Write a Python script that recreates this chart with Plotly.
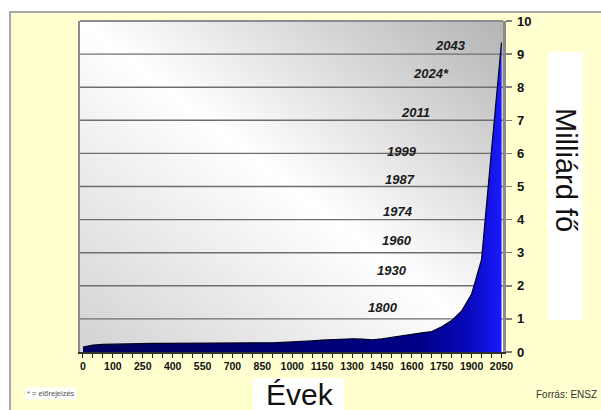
import numpy as np
import plotly.graph_objects as go

# ---------------- data ----------------
years = [0, 33, 67, 100, 150, 200, 250, 300, 350, 400, 450, 500, 550, 600, 650,
         700, 750, 800, 850, 900, 950, 1000, 1050, 1100, 1150, 1200, 1250, 1300,
         1350, 1400, 1450, 1500, 1550, 1600, 1650, 1700, 1750, 1800, 1850, 1900,
         1950, 2000, 2050]
population = [0.15, 0.21, 0.23, 0.24, 0.25, 0.25, 0.26, 0.26, 0.26, 0.26, 0.26, 0.26,
              0.26, 0.26, 0.26, 0.27, 0.27, 0.27, 0.28, 0.28, 0.29, 0.30, 0.32, 0.34,
              0.36, 0.38, 0.39, 0.40, 0.39, 0.37, 0.40, 0.45, 0.50, 0.55, 0.58, 0.62,
              0.76, 0.95, 1.24, 1.75, 2.80, 6.10, 9.35]
x_tick_labels = ["0", "100", "250", "400", "550", "700", "850", "1000", "1150",
                 "1300", "1450", "1600", "1750", "1900", "2050"]
y_ticks = [0, 1, 2, 3, 4, 5, 6, 7, 8, 9, 10]
milestone_labels = ["1800", "1930", "1960", "1974", "1987", "1999", "2011", "2024*", "2043"]
milestone_billions = [1, 2, 3, 4, 5, 6, 7, 8, 9]

# ---------------- layout geometry ----------------
W, H = 601, 410
L, R, T, B = 80, 98, 21, 58
XR = [-0.3, 42.15]
YR = [0, 10]


def xp(px):
    return (px - L) / (W - L - R)


def yp(py):
    return (H - B - py) / (H - T - B)


idx = list(range(len(years)))
tick_idx = [years.index(int(t)) for t in x_tick_labels]

fig = go.Figure()

# background gradient of the plot area (diagonal white band)
gx = np.linspace(XR[0] - 1, XR[1] + 1, 40)
gy = np.linspace(YR[0] - 0.5, YR[1] + 0.5, 40)
U = (gx - XR[0]) / (XR[1] - XR[0])
V = (gy - YR[0]) / (YR[1] - YR[0])
Z = U[None, :] + V[:, None] - 1.0
fig.add_trace(go.Heatmap(
    x=gx, y=gy, z=Z, zmin=-1, zmax=1, zsmooth="best", showscale=False,
    hoverinfo="skip",
    colorscale=[[0, "#d2d2d2"], [0.5, "#ffffff"], [1, "#b4b4b4"]],
))

# gridlines (from the y tick values)
gxs, gys = [], []
for v in y_ticks[1:-1]:
    gxs += [XR[0], XR[1], None]
    gys += [v, v, None]
fig.add_trace(go.Scatter(x=gxs, y=gys, mode="lines", hoverinfo="skip",
                         line=dict(color="#6e6e6e", width=1.4), showlegend=False))

# population area
fig.add_trace(go.Scatter(
    x=idx, y=population, mode="lines", fill="tozeroy",
    line=dict(color="#000020", width=1.2),
    fillgradient=dict(type="horizontal",
                      colorscale=[[0, "#00005e"], [0.5, "#000072"], [0.8, "#000088"],
                                  [0.92, "#0808b8"], [1, "#1a1aff"]]),
    hoverinfo="skip", showlegend=False,
))

# milestone labels
label_pos = [(30.1, 1.33), (31.0, 2.47), (31.5, 3.36), (31.6, 4.24), (31.8, 5.22),
             (32.0, 6.06), (33.4, 7.23), (34.9, 8.40), (36.88, 9.27)]
annotations = []
for lab, (lx, ly) in zip(milestone_labels, label_pos):
    annotations.append(dict(
        x=lx, y=ly, xref="x", yref="y", text=lab, showarrow=False,
        xanchor="center", yanchor="middle",
        font=dict(family="Liberation Sans, Arial", size=13, color="#1a1a1a",
                  weight="bold", style="italic"),
    ))

annotations += [
    dict(x=xp(566), y=yp(170), xref="paper", yref="paper", text="Milliárd fő",
         textangle=90, showarrow=False, xanchor="center", yanchor="middle",
         font=dict(family="Liberation Sans, Arial", size=29, color="#111111")),
    dict(x=xp(300), y=yp(394), xref="paper", yref="paper", text="Évek",
         showarrow=False, xanchor="center", yanchor="middle",
         font=dict(family="Liberation Sans, Arial", size=30, color="#111111")),
    dict(x=xp(599), y=yp(394), xref="paper", yref="paper", text="Forrás: ENSZ",
         showarrow=False, xanchor="right", yanchor="middle",
         font=dict(family="Liberation Sans, Arial", size=10, color="#333333")),
    dict(x=xp(25), y=yp(393), xref="paper", yref="paper", text="* = előrejelzés",
         showarrow=False, xanchor="left", yanchor="middle", bgcolor="#ffffff",
         borderpad=1,
         font=dict(family="Liberation Sans, Arial", size=7.5, color="#555555")),
]

shapes = [
    # yellow slide background with grey frame
    dict(type="rect", xref="paper", yref="paper", layer="below",
         x0=xp(10), x1=xp(W + 5), y0=yp(H + 5), y1=yp(12),
         fillcolor="#ffffcf", line=dict(color="#a8a8a8", width=2)),
    # white boxes behind axis titles
    dict(type="rect", xref="paper", yref="paper", layer="below",
         x0=xp(548), x1=xp(583), y0=yp(320), y1=yp(52),
         fillcolor="#ffffff", line=dict(width=0)),
    dict(type="rect", xref="paper", yref="paper", layer="below",
         x0=xp(253), x1=xp(344), y0=yp(H + 5), y1=yp(378),
         fillcolor="#ffffff", line=dict(width=0)),
    # top border of plot area
    dict(type="line", xref="paper", yref="paper", layer="above",
         x0=0, x1=1, y0=1, y1=1, line=dict(color="#8c8c8c", width=2)),
]

fig.update_layout(
    width=W, height=H, margin=dict(l=L, r=R, t=T, b=B, pad=0),
    paper_bgcolor="#ffffff", plot_bgcolor="#ffffff",
    showlegend=False, annotations=annotations, shapes=shapes,
    xaxis=dict(range=XR, tickmode="array", tickvals=tick_idx, ticktext=x_tick_labels,
               ticks="outside", ticklen=4, tickcolor="#222222", tickwidth=1,
               minor=dict(ticks="outside", dtick=1, tick0=0, ticklen=4,
                          tickcolor="#222222", tickwidth=1, showgrid=False),
               showgrid=False, zeroline=False, showline=True, linecolor="#303030",
               linewidth=1.5,
               tickfont=dict(family="Liberation Sans, Arial", size=10.5,
                             color="#111111", weight="bold"),
               fixedrange=True),
    yaxis=dict(range=YR, side="right", tickmode="array", tickvals=y_ticks,
               ticks="outside", ticklen=6, tickcolor="#808080", tickwidth=1.5,
               showgrid=False, zeroline=False, showline=True, mirror=True,
               linecolor="#8c8c8c", linewidth=2.5, ticklabelstandoff=3,
               tickfont=dict(family="Liberation Sans, Arial", size=13,
                             color="#111111", weight="bold"),
               fixedrange=True),
)

fig.write_html(
    "out.html",
    config={"displayModeBar": False, "staticPlot": True},
    post_script="document.body.style.margin='0';document.body.style.overflow='hidden';",
)
